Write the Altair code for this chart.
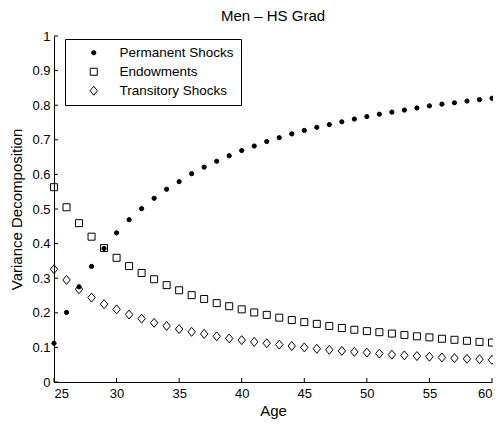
import altair as alt
import pandas as pd

ages = list(range(25, 61))
permanent = [0.112, 0.201, 0.275, 0.334, 0.386, 0.431, 0.469, 0.501, 0.531, 0.557,
             0.579, 0.602, 0.621, 0.638, 0.654, 0.669, 0.682, 0.695, 0.706, 0.717,
             0.727, 0.736, 0.744, 0.752, 0.760, 0.767, 0.774, 0.780, 0.786, 0.792,
             0.798, 0.803, 0.807, 0.812, 0.816, 0.820]
endowments = [0.563, 0.505, 0.459, 0.420, 0.387, 0.359, 0.335, 0.315, 0.297, 0.280,
              0.265, 0.251, 0.240, 0.228, 0.219, 0.210, 0.201, 0.194, 0.186, 0.179,
              0.173, 0.168, 0.162, 0.156, 0.151, 0.147, 0.144, 0.140, 0.136, 0.132,
              0.129, 0.125, 0.122, 0.119, 0.116, 0.114]
transitory = [0.326, 0.295, 0.268, 0.244, 0.225, 0.210, 0.195, 0.183, 0.171, 0.162,
              0.153, 0.145, 0.139, 0.132, 0.126, 0.121, 0.116, 0.112, 0.108, 0.104,
              0.100, 0.096, 0.093, 0.090, 0.087, 0.085, 0.082, 0.079, 0.077, 0.075,
              0.073, 0.071, 0.069, 0.067, 0.066, 0.064]

series = ["Permanent Shocks", "Endowments", "Transitory Shocks"]
x_ticks = [25, 30, 35, 40, 45, 50, 55, 60]
y_ticks = [0, 0.1, 0.2, 0.3, 0.4, 0.5, 0.6, 0.7, 0.8, 0.9, 1]

rows = []
for name, vals in [("Endowments", endowments), ("Transitory Shocks", transitory),
                   ("Permanent Shocks", permanent)]:
    for a, v in zip(ages, vals):
        rows.append({"age": a, "value": v, "series": name})
df = pd.DataFrame(rows)

FONT = "Liberation Sans"
W, H = 438, 346
DIAMOND = "M0,-1L0.83,0L0,1L-0.83,0Z"

x_axis = alt.Axis(values=x_ticks, title="Age", tickSize=0, grid=False, format="d",
                  labelPadding=5, titlePadding=3, titleFontSize=15)
y_axis = alt.Axis(values=y_ticks, title="Variance Decomposition", tickSize=0, grid=False,
                  format="~g", labelPadding=4, titlePadding=7, titleFontSize=15)
x_scale = alt.Scale(domain=[25, 60], nice=False, zero=False)
y_scale = alt.Scale(domain=[0, 1], nice=False)

points = alt.Chart(df).mark_point(filled=True, strokeWidth=1, opacity=1).encode(
    x=alt.X("age:Q", scale=x_scale, axis=x_axis),
    y=alt.Y("value:Q", scale=y_scale, axis=y_axis),
    shape=alt.Shape("series:N", title=None,
                    scale=alt.Scale(domain=series, range=["circle", "square", DIAMOND])),
    size=alt.Size("series:N", title=None,
                  scale=alt.Scale(domain=series, range=[18, 80, 165])),
    fill=alt.Fill("series:N", title=None,
                  scale=alt.Scale(domain=series, range=["black", "transparent", "transparent"])),
    stroke=alt.Stroke("series:N", title=None,
                      scale=alt.Scale(domain=series, range=["black", "black", "black"])),
    order=alt.Order("ord:Q"),
).transform_calculate(ord="datum.series == 'Permanent Shocks' ? 2 : 1")

xt = alt.Chart(pd.DataFrame({"age": x_ticks})).mark_rule(color="black", strokeWidth=1).encode(
    x=alt.X("age:Q", scale=x_scale, axis=x_axis),
    y=alt.value(H),
    y2=alt.value(H - 4),
)
yt = alt.Chart(pd.DataFrame({"value": y_ticks})).mark_rule(color="black", strokeWidth=1).encode(
    y=alt.Y("value:Q", scale=y_scale, axis=y_axis),
    x=alt.value(0),
    x2=alt.value(4),
)

chart = alt.layer(xt, yt, points).properties(
    width=W, height=H,
    title=alt.TitleParams("Men \u2013 HS Grad", font=FONT, fontSize=15, fontWeight="normal",
                          color="black", anchor="middle", offset=6),
    autosize=alt.AutoSizeParams(type="none"),
    padding={"left": 46, "top": 28, "right": 1, "bottom": 40},
).configure_view(stroke=None).configure_axis(
    domainColor="black", domainWidth=1, labelColor="black", titleColor="black",
    labelFont=FONT, titleFont=FONT, labelFontSize=13,
    titleFontWeight="normal",
).configure_legend(
    orient="none", legendX=11, legendY=3, strokeColor="black", fillColor="white",
    padding=7, symbolOffset=15, labelOffset=19, rowPadding=4,
    labelFont=FONT, labelFontSize=13.5, labelColor="black", symbolStrokeWidth=1,
    cornerRadius=0,
)

chart.save("out.html", embed_options={"renderer": "svg", "actions": False})
